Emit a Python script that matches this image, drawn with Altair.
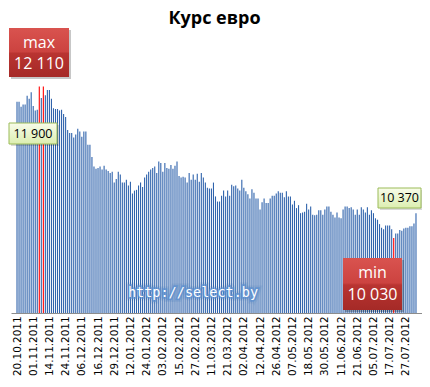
import altair as alt
import pandas as pd

# ---------------- data ----------------
TICK_LABELS = [
    "20.10.2011", "01.11.2011", "14.11.2011", "24.11.2011", "06.12.2011",
    "16.12.2011", "29.12.2011", "12.01.2012", "24.01.2012", "03.02.2012",
    "15.02.2012", "27.02.2012", "11.03.2012", "21.03.2012", "02.04.2012",
    "12.04.2012", "26.04.2012", "07.05.2012", "18.05.2012", "30.05.2012",
    "11.06.2012", "21.06.2012", "05.07.2012", "17.07.2012", "27.07.2012",
]
TICK_STEP = 8  # one date label every 8 trading days

RATES_2011 = [
    11900, 11900, 11830, 11860, 11860, 11980, 11940, 12030, 11840, 11780,
    11790, 12110, 11950, 12110, 11990, 12060, 12060, 11940, 11810, 11800,
    11800, 11780, 11790, 11730, 11690, 11510, 11470, 11470, 11410, 11450,
    11530, 11490, 11420, 11490, 11490, 11310, 11310, 11140, 11010, 10980,
    10990, 11010, 10970, 11020, 10970, 10950, 10920, 10940, 10790, 10840,
    10940, 10900, 10790, 10790, 10830, 10750, 10800, 10640, 10680, 10690,
    10750, 10790, 10730, 10860, 10900,
]
RATES_2012_Q1 = [
    10940, 10970, 10990, 11010, 10920, 11080, 11060, 10940, 11060, 10990,
    10980, 11030, 10980, 11020, 11080, 10880, 10860, 10870, 10860, 10790,
    10920, 10830, 10900, 10830, 10910, 10800, 10920, 10860, 10790, 10720,
    10710, 10710, 10790, 10600,
    10530, 10530, 10610, 10680, 10600, 10680, 10610, 10760, 10740, 10750,
    10710, 10680, 10830, 10720, 10670, 10630, 10570, 10700, 10650, 10570,
    10570, 10420, 10520, 10570, 10510, 10510, 10570, 10610, 10610, 10640,
    10670, 10650,
]
RATES_2012_Q2 = [
    10650, 10590, 10670, 10600, 10600, 10490, 10540, 10440, 10480, 10370,
    10380, 10390, 10500, 10420, 10460, 10350, 10340, 10350, 10410, 10410,
    10350, 10420, 10460, 10460, 10390, 10350, 10310, 10380, 10310, 10300,
    10420, 10460, 10460,
    10440, 10450, 10420, 10350, 10420, 10350, 10450, 10420, 10380, 10450,
    10350, 10410, 10370, 10300, 10280, 10220, 10170, 10150, 10200, 10200,
    10200, 10150, 10030, 10090, 10090, 10140, 10130, 10160, 10170, 10170,
    10190, 10190, 10230, 10370,
]
RATES = RATES_2011 + RATES_2012_Q1 + RATES_2012_Q2

AXIS_MIN = 9000
AXIS_MAX = 13186

TITLE = "Курс евро"
WATERMARK = "http://select.by"

# ---------------- derived tables ----------------
n = len(RATES)
hi, lo = max(RATES), min(RATES)
df = pd.DataFrame({
    "idx": list(range(n)),
    "rate": RATES,
    "base": [AXIS_MIN] * n,
    "fill": ["#FF0000" if r in (hi, lo) else "#2F63AC" for r in RATES],
})


def fmt(v):
    return f"{v:,}".replace(",", " ")


label_expr = "[" + ",".join(f"'{t}'" for t in TICK_LABELS) + \
    f"][round(datum.value/{TICK_STEP})]"

W, H = 411, 305
ONE = pd.DataFrame({"k": [0]})

bars = alt.Chart(df).mark_bar(size=1.1).encode(
    x=alt.X(
        "idx:Q",
        scale=alt.Scale(domain=[-0.5, n - 0.5], nice=False, zero=False),
        axis=alt.Axis(
            values=list(range(0, n, TICK_STEP)),
            labelExpr=label_expr,
            labelAngle=270,
            labelFont="DejaVu Sans",
            labelFontSize=10.4,
            labelColor="#000000",
            labelPadding=3,
            ticks=False,
            tickSize=0,
            grid=False,
            domainColor="#8c8c8c",
            labelOverlap=False,
            labelFlush=False,
            title=None,
        ),
    ),
    y=alt.Y("rate:Q",
            scale=alt.Scale(domain=[AXIS_MIN, AXIS_MAX], nice=False, zero=False),
            axis=None),
    y2="base:Q",
    color=alt.Color("fill:N", scale=None),
)

RED = alt.Gradient(
    gradient="linear", x1=0, x2=0, y1=0, y2=1,
    stops=[alt.GradientStop(color="#D9534F", offset=0),
           alt.GradientStop(color="#CC4340", offset=0.48),
           alt.GradientStop(color="#B93431", offset=0.52),
           alt.GradientStop(color="#A52A27", offset=1)],
)
LIGHT = alt.Gradient(
    gradient="linear", x1=0, x2=0, y1=0, y2=1,
    stops=[alt.GradientStop(color="#F8FCEA", offset=0),
           alt.GradientStop(color="#DCEEB0", offset=1)],
)


def rect(x1, x2, y1, y2, **style):
    return alt.Chart(ONE).mark_rect(**style).encode(
        x=alt.value(x1), x2=alt.value(x2), y=alt.value(y1), y2=alt.value(y2))


def text(s, x, y, **style):
    return alt.Chart(pd.DataFrame({"t": [s]})).mark_text(
        align="center", baseline="middle", **style).encode(
        text="t:N", x=alt.value(x), y=alt.value(y))


def red_box(x1, x2, y1, y2):
    return [rect(x1 + 2, x2 + 2, y1 + 2, y2 + 2, fill="#000000", opacity=0.22),
            rect(x1, x2, y1, y2, fill=RED)]


def light_box(x1, x2, y1, y2):
    return [rect(x1 + 2, x2 + 2, y1 + 2, y2 + 2, fill="#000000", opacity=0.15),
            rect(x1, x2, y1, y2, fill=LIGHT, stroke="#9BBB59", strokeWidth=1)]


RED_TXT = dict(font="Open Sans", fontSize=16, color="#FFFFFF")
LT_TXT = dict(font="Open Sans", fontSize=12.5, color="#000000")

layers = [bars]
# title
layers.append(text(TITLE, 203.5, 10, font="Open Sans", fontSize=18,
                   fontWeight="bold", color="#000000", baseline="top",
                   dy=-9) if False else
              alt.Chart(pd.DataFrame({"t": [TITLE]})).mark_text(
                  align="center", baseline="top", font="Open Sans",
                  fontSize=18, fontWeight="bold", color="#000000").encode(
                  text="t:N", x=alt.value(203.5), y=alt.value(2)))
# max box
layers += red_box(-2, 58, 20, 69)
layers.append(text("max", 28, 35, **RED_TXT))
layers.append(text(fmt(hi), 28, 56, **RED_TXT))
# first value box
layers += light_box(-2, 46, 115, 136)
layers.append(text(fmt(RATES[0]), 22, 125.5, **LT_TXT))
# last value box
layers += light_box(367, 410, 180, 200)
layers.append(text(fmt(RATES[-1]), 388.5, 190, **LT_TXT))
# watermark
layers.append(text(WATERMARK, 182, 285, font="DejaVu Sans Mono", fontSize=13.5,
                   color="#4F81BD", stroke="#4F81BD", strokeWidth=7,
                   strokeOpacity=0.3, opacity=0.6))
layers.append(text(WATERMARK, 182, 285, font="DejaVu Sans Mono", fontSize=13.5,
                   color="#5B8FD0", stroke="#5B8FD0", strokeWidth=3.5,
                   strokeOpacity=0.7))
layers.append(text(WATERMARK, 182, 285, font="DejaVu Sans Mono", fontSize=13.5,
                   color="#FFFFFF"))
# min box
layers += red_box(332, 391, 250, 302)
layers.append(text("min", 361.5, 264.5, **RED_TXT))
layers.append(text(fmt(lo), 361.5, 287, **RED_TXT))

chart = alt.layer(*layers).properties(
    width=W,
    height=H,
    autosize=alt.AutoSizeParams(type="none"),
    padding={"left": 3, "top": 0, "right": 0, "bottom": 63},
    background="#FFFFFF",
).configure_view(strokeWidth=0)

chart.save("out.html", embed_options={"renderer": "svg", "actions": False})
